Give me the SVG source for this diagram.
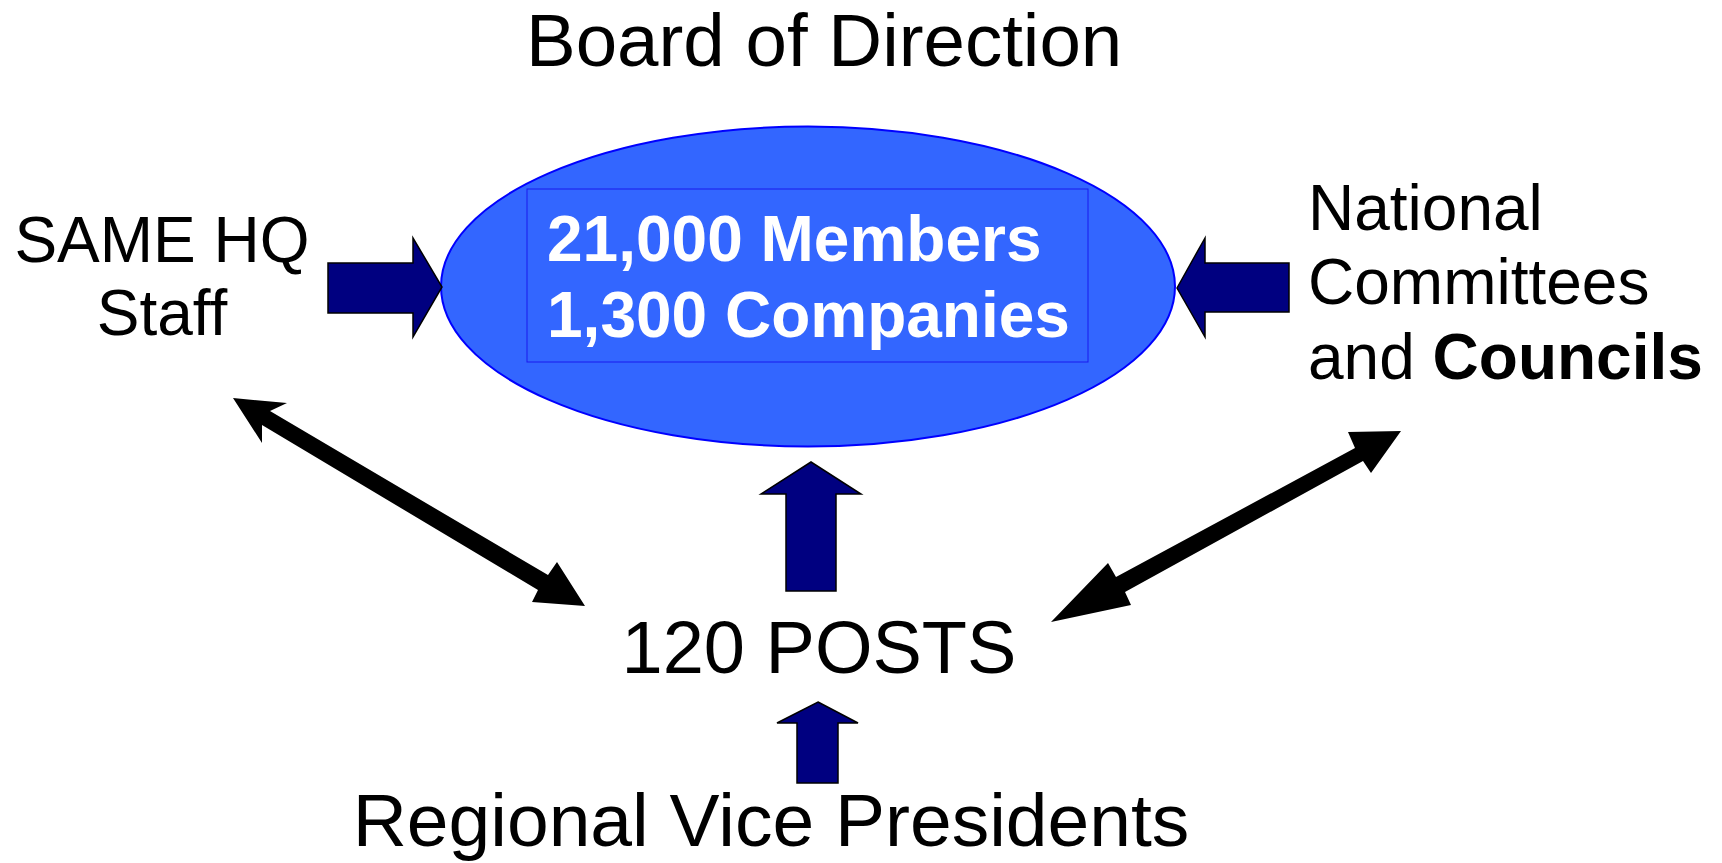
<svg xmlns="http://www.w3.org/2000/svg" width="1722" height="863" viewBox="0 0 1722 863">
<style>
.t{font-family:"Liberation Sans",Arial,sans-serif;fill:#000}
.w{font-family:"Liberation Sans",Arial,sans-serif;fill:#fff;font-weight:bold;font-size:64px}
.blk{fill:#000080;stroke:#000;stroke-width:1.5;stroke-linejoin:miter}
.dbl{fill:#000;stroke:none}
</style>
<rect width="1722" height="863" fill="#fff"/>
<g id="title"><text class="t" x="526" y="66" font-size="74.5">Board of Direction</text></g>
<g id="center">
<ellipse cx="808" cy="286.5" rx="367" ry="160" fill="#3366FF" stroke="#0000FF" stroke-width="2"/>
<rect x="527" y="189" width="561" height="173" fill="none" stroke="#1a1aee" stroke-width="1"/>
<text class="w" x="547" y="261">21,000 Members</text>
<text class="w" x="547" y="337">1,300 Companies</text>
</g>
<g id="hq">
<text class="t" font-size="64" text-anchor="middle" x="162" y="262">SAME HQ</text>
<text class="t" font-size="64" text-anchor="middle" x="162" y="335">Staff</text>
</g>
<g id="national">
<text class="t" font-size="64" x="1308" y="230">National</text>
<text class="t" font-size="64" x="1308" y="304">Committees</text>
<text class="t" font-size="64" x="1308" y="379">and <tspan font-weight="bold">Councils</tspan></text>
</g>
<g id="posts"><text class="t" font-size="74" text-anchor="middle" x="819" y="673">120 POSTS</text></g>
<g id="rvp"><text class="t" font-size="75" text-anchor="middle" x="771" y="846">Regional Vice Presidents</text></g>
<g id="connectors">
<polygon class="blk" points="328,263 413,263 413,238 442,287 413,337 413,313 328,313"/>
<polygon class="blk" points="1177,288 1205,238 1205,263 1289,263 1289,312 1205,312 1205,337"/>
<polygon class="blk" points="811,462 861,494 836,494 836,591 786,591 786,494 761,494"/>
<polygon class="blk" points="818,702 858,723 838,723 838,783 797,783 797,723 777,723"/>
<polygon class="dbl" points="233,398 287,403 270,411 548,575 557,562 585,606 532,602 538,590 262,425 262,443"/>
<polygon class="dbl" points="1401,431 1371,473 1363,461 1125,592 1131,605 1051,622 1108,563 1116,577 1355,448 1348,432"/>
</g>
</svg>
